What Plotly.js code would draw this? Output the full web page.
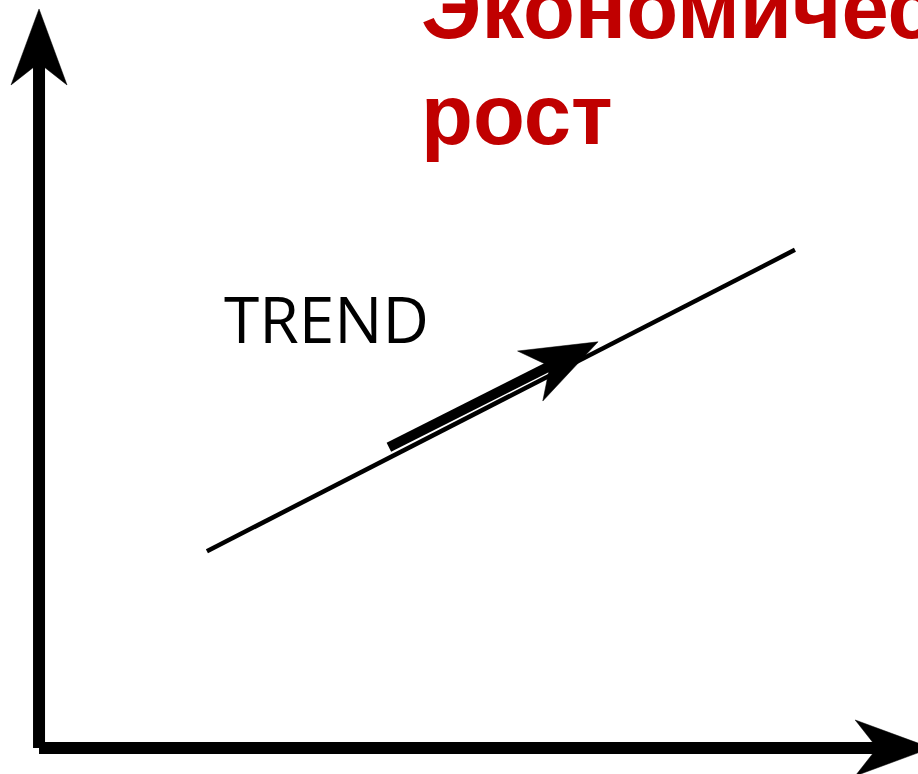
<!DOCTYPE html>
<html>
<head>
<meta charset="utf-8">
<script src="https://cdn.plot.ly/plotly-3.0.1.min.js"></script>
<style>
  html, body { margin: 0; padding: 0; background: #fff; }
  #chart { width: 918px; height: 774px; }
</style>
</head>
<body>
<div id="chart"></div>
<script>
// chart values (axis units, origin at the corner of the two axes)
const titleLines = ['Экономический', 'рост'];
const trendLabel = 'TREND';

const xAxisX = [0, 101.5];
const xAxisY = [0, 0];
const yAxisX = [0, 0];
const yAxisY = [0, 98.8];

const trendX = [19.1, 86.0];
const trendY = [26.3, 66.6];

const growthX = [39.8, 63.6];
const growthY = [40.2, 54.3];

// layout
const W = 918, H = 774;
const xRange = [-4.44, 100];
const yRange = [-3.48, 100];
const sx = W / (xRange[1] - xRange[0]);   // px per unit
const sy = H / (yRange[1] - yRange[0]);

// arrow = shaft line + notched head, head sized in pixels
function arrow(xs, ys, width) {
    const x0 = xs[0], y0 = ys[0], x1 = xs[1], y1 = ys[1];
    const dx = (x1 - x0) * sx, dy = (y1 - y0) * sy;
    const len = Math.hypot(dx, dy);
    const ux = dx / len, uy = dy / len;
    const nx = -uy, ny = ux;
    const headLen = 76, halfW = 28, notch = 54;
    const pt = (along, side) => [
        x1 + (-ux * along + nx * side) / sx,
        y1 + (-uy * along + ny * side) / sy
    ];
    const head = [pt(0, 0), pt(headLen, halfW), pt(notch, 0), pt(headLen, -halfW), pt(0, 0)];
    const shaftEnd = pt(notch - 4, 0);
    return [
        {
            x: [x0, shaftEnd[0]], y: [y0, shaftEnd[1]],
            mode: 'lines', line: { color: '#000', width: width },
            hoverinfo: 'skip', showlegend: false
        },
        {
            x: head.map(p => p[0]), y: head.map(p => p[1]),
            mode: 'lines', fill: 'toself', fillcolor: '#000',
            line: { color: '#000', width: 0.5 },
            hoverinfo: 'skip', showlegend: false
        }
    ];
}

const traces = [
    {
        x: trendX, y: trendY,
        mode: 'lines', line: { color: '#000', width: 4.5 },
        hoverinfo: 'skip', showlegend: false
    },
    ...arrow(growthX, growthY, 10),
    ...arrow(yAxisX, yAxisY, 12),
    ...arrow(xAxisX, xAxisY, 12)
];

const titleFont = { family: '"Liberation Sans", Arial, sans-serif', size: 85, color: '#C00000', weight: 'bold' };

const layout = {
    width: W,
    height: H,
    margin: { t: 0, b: 0, l: 0, r: 0 },
    paper_bgcolor: '#fff',
    plot_bgcolor: '#fff',
    xaxis: { range: xRange, visible: false, fixedrange: true },
    yaxis: { range: yRange, visible: false, fixedrange: true },
    showlegend: false,
    annotations: [
        {
            text: '<b>' + titleLines[0] + '</b>', xref: 'paper', yref: 'paper',
            x: 0.4564, y: 0.9884, xanchor: 'left', yanchor: 'middle',
            showarrow: false, font: titleFont
        },
        {
            text: '<b>' + titleLines[1] + '</b>', xref: 'paper', yref: 'paper',
            x: 0.4564, y: 0.8515, xanchor: 'left', yanchor: 'middle',
            showarrow: false, font: titleFont
        },
        {
            text: trendLabel, xref: 'paper', yref: 'paper',
            x: 0.2418, y: 0.5884, xanchor: 'left', yanchor: 'middle',
            showarrow: false,
            font: { family: '"Open Sans", sans-serif', size: 64, color: '#000' }
        }
    ]
};

Plotly.newPlot('chart', traces, layout, { staticPlot: true });
</script>
</body>
</html>
